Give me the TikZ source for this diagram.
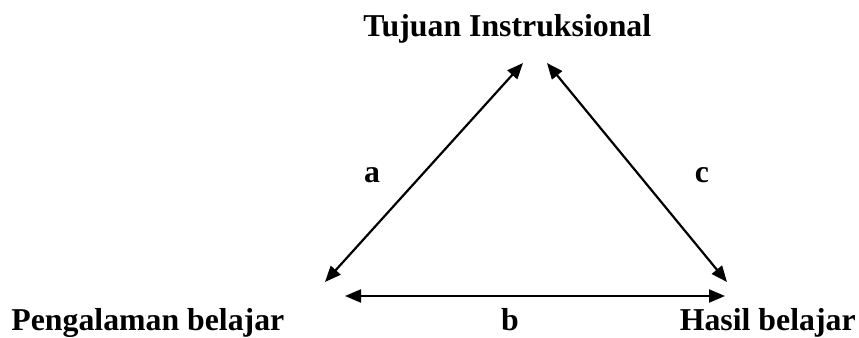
\documentclass[tikz,border=0pt]{standalone}
\usepackage{fontspec}
\setmainfont{Liberation Serif}
\usepackage{tikz}
\usetikzlibrary{arrows.meta}

\begin{document}
\begin{tikzpicture}[
        x=0.5pt, y=-0.5pt,
        every node/.style={font=\fontsize{15.9}{19}\selectfont\bfseries, inner sep=0pt},
        lbl/.style={anchor=base},
        arr/.style={{Triangle[length=8pt,width=6.5pt]}-{Triangle[length=8pt,width=6.5pt]}, line width=1.1pt}]

      \useasboundingbox (0,0) rectangle (859,338);

      \node[anchor=base west] (tujuan) at (363,36) {Tujuan Instruksional};
      \node[anchor=base west] (pengalaman) at (11,330) {Pengalaman belajar};
      \node[anchor=base east] (hasil) at (856,330) {Hasil belajar};

      \coordinate (topl) at (523,63);
      \coordinate (topr) at (547,63);
      \coordinate (left) at (325,282);
      \coordinate (right) at (727,282);
      \coordinate (botl) at (345,296);
      \coordinate (botr) at (725,296);

      \draw[arr] (left) -- (topl);
      \draw[arr] (topr) -- (right);
      \draw[arr] (botl) -- (botr);

      \node[lbl] (a) at (372,182) {a};
      \node[lbl] (c) at (702,182) {c};
      \node[lbl] (b) at (510,330) {b};
    \end{tikzpicture}
\end{document}
